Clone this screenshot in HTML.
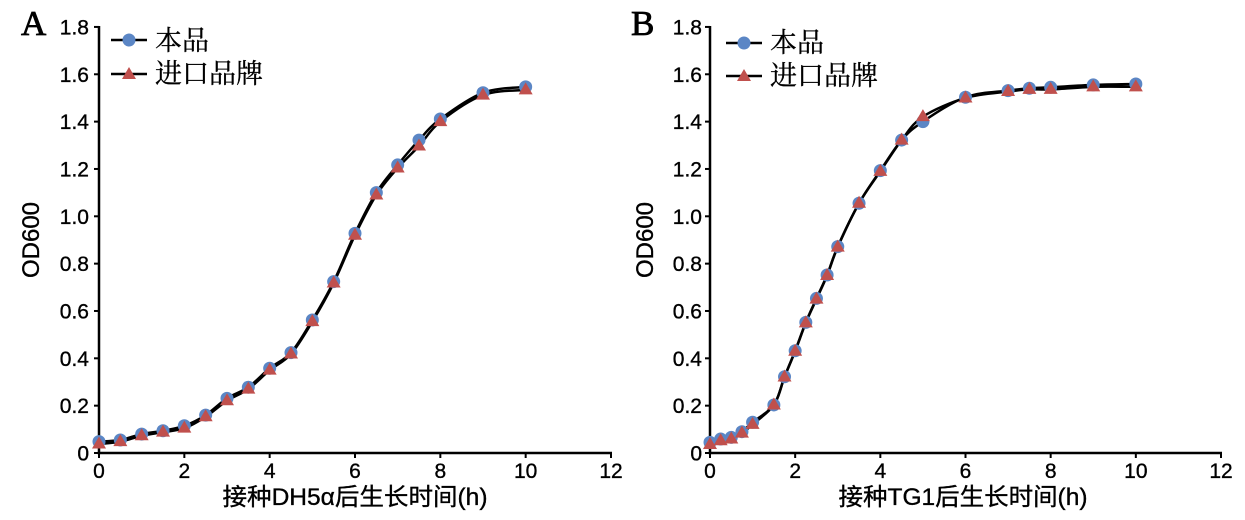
<!DOCTYPE html>
<html><head><meta charset="utf-8">
<style>
html,body{margin:0;padding:0;background:#fff;}
svg{display:block;}
.t{font-family:"Liberation Sans","Noto Sans CJK SC",sans-serif;fill:#000;stroke:#000;stroke-width:0.35px;}
.s{font-family:"Liberation Serif","Noto Serif CJK SC",serif;fill:#000;stroke:#000;stroke-width:0.3px;}
.big{stroke-width:0.8px;}
</style></head>
<body>
<svg id="c" width="1245" height="520" viewBox="0 0 1245 520" xmlns="http://www.w3.org/2000/svg">
<rect width="1245" height="520" fill="#fff"/>
<text class="s big" x="21" y="35" font-size="35">A</text>
<text class="s big" x="631" y="35" font-size="35">B</text>
<text class="t" font-size="24" transform="translate(39,240) rotate(-90)" text-anchor="middle">OD600</text>
<text class="t" font-size="24" transform="translate(653,240) rotate(-90)" text-anchor="middle">OD600</text>
<text class="t" x="355" y="505" font-size="24" text-anchor="middle" textLength="265" lengthAdjust="spacingAndGlyphs">接种DH5α后生长时间(h)</text>
<text class="t" x="963" y="505" font-size="24" text-anchor="middle" textLength="249" lengthAdjust="spacingAndGlyphs">接种TG1后生长时间(h)</text>
<g id="axes"></g>
<g id="series"></g>
<!-- legends -->
<line x1="111" y1="40" x2="147" y2="40" stroke="#000" stroke-width="2.5"/>
<circle cx="129" cy="40" r="6.5" fill="#5b86c5"/>
<line x1="111" y1="74" x2="147" y2="74" stroke="#000" stroke-width="2.5"/>
<polygon points="129,67 136,79 122,79" fill="#c0504d"/>
<text class="s" x="155" y="50" font-size="27">本品</text>
<text class="s" x="155" y="83" font-size="27">进口品牌</text>
<line x1="726" y1="43" x2="762" y2="43" stroke="#000" stroke-width="2.5"/>
<circle cx="744" cy="43" r="6.5" fill="#5b86c5"/>
<line x1="726" y1="76" x2="762" y2="76" stroke="#000" stroke-width="2.5"/>
<polygon points="744,69 751,81 737,81" fill="#c0504d"/>
<text class="s" x="770" y="52" font-size="27">本品</text>
<text class="s" x="770" y="85" font-size="27">进口品牌</text>
</svg>
<script>
(function(){
var NS="http://www.w3.org/2000/svg";
var axes=document.getElementById("axes"), ser=document.getElementById("series");
function el(p,n,a,txt){var e=document.createElementNS(NS,n);for(var k in a)e.setAttribute(k,a[k]);if(txt!==undefined)e.textContent=txt;p.appendChild(e);return e;}
var panels=[
 {x0:99,x12:611,lab:89,y0:453,
  xs:[0,0.5,1,1.5,2,2.5,3,3.5,4,4.5,5,5.5,6,6.5,7,7.5,8,9,10],
  c:[0.048,0.055,0.08,0.094,0.115,0.16,0.231,0.278,0.358,0.424,0.562,0.724,0.928,1.10,1.217,1.322,1.411,1.522,1.547],
  t:[0.038,0.048,0.073,0.088,0.105,0.153,0.221,0.27,0.35,0.418,0.555,0.718,0.92,1.09,1.204,1.297,1.40,1.512,1.534]},
 {x0:710,x12:1221,lab:702,y0:453,
  xs:[0,0.25,0.5,0.75,1,1.5,1.75,2,2.25,2.5,2.75,3,3.5,4,4.5,5,6,7,7.5,8,9,10],
  c:[0.045,0.059,0.066,0.09,0.13,0.203,0.322,0.432,0.552,0.653,0.752,0.872,1.055,1.193,1.322,1.40,1.503,1.531,1.541,1.545,1.555,1.559],
  t:[0.036,0.052,0.059,0.084,0.121,0.203,0.321,0.43,0.55,0.65,0.75,0.87,1.055,1.19,1.322,1.421,1.50,1.527,1.536,1.536,1.547,1.547]}
];
var ys=236.7;
panels.forEach(function(p){
 var xs=(p.x12-p.x0)/12;
 function X(v){return p.x0+v*xs;} function Y(v){return p.y0-v*ys;}
 el(axes,"line",{x1:p.x0,y1:Y(1.8)-1,x2:p.x0,y2:p.y0+1.2,stroke:"#000","stroke-width":2.5});
 el(axes,"line",{x1:p.x0-1.2,y1:p.y0,x2:p.x12+1,y2:p.y0,stroke:"#000","stroke-width":2.5});
 for(var i=0;i<=9;i++){var v=i*0.2,y=Y(v);
  el(axes,"line",{x1:p.x0-5,y1:y,x2:p.x0,y2:y,stroke:"#000","stroke-width":2});
  el(axes,"text",{"class":"t",x:p.lab,y:y+7.5,"font-size":21,"text-anchor":"end"},i==0?"0":v.toFixed(1));}
 for(var j=0;j<=6;j++){var x=X(j*2);
  el(axes,"line",{x1:x,y1:p.y0,x2:x,y2:p.y0+5,stroke:"#000","stroke-width":2});
  el(axes,"text",{"class":"t",x:x,y:478,"font-size":21,"text-anchor":"middle"},String(j*2));}
 function path(vals){
  var pts=p.xs.map(function(v,i){return [X(v),Y(vals[i])];});
  var d="M"+pts[0][0].toFixed(2)+","+pts[0][1].toFixed(2);
  for(var i=0;i<pts.length-1;i++){
   var p0=pts[Math.max(i-1,0)],p1=pts[i],p2=pts[i+1],p3=pts[Math.min(i+2,pts.length-1)];
   var c1=[p1[0]+(p2[0]-p0[0])/6,p1[1]+(p2[1]-p0[1])/6];
   var c2=[p2[0]-(p3[0]-p1[0])/6,p2[1]-(p3[1]-p1[1])/6];
   d+=" C"+c1[0].toFixed(2)+","+c1[1].toFixed(2)+" "+c2[0].toFixed(2)+","+c2[1].toFixed(2)+" "+p2[0].toFixed(2)+","+p2[1].toFixed(2);
  }
  el(ser,"path",{d:d,fill:"none",stroke:"#000","stroke-width":2.5,"stroke-linejoin":"round"});
  return pts;
 }
 var pc=path(p.c), pt=path(p.t);
 pc.forEach(function(q){el(ser,"circle",{cx:q[0],cy:q[1],r:6.5,fill:"#5b86c5"});});
 pt.forEach(function(q){var x=q[0],y=q[1];
  el(ser,"polygon",{points:x+","+(y-7.5)+" "+(x+7)+","+(y+4.5)+" "+(x-7)+","+(y+4.5),fill:"#c0504d"});});
});
})();
</script>
</body></html>
